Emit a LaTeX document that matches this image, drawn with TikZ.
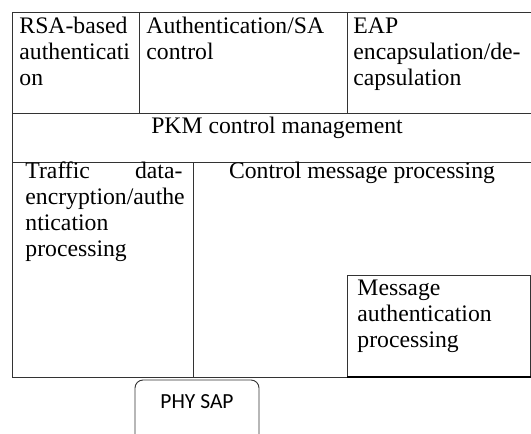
\documentclass[tikz,border=0pt]{standalone}
\usepackage{fontspec}
\setmainfont{Liberation Serif}
\newfontfamily\sapfont{Carlito}
\newcommand{\serifbody}{\fontsize{23.7}{26}\selectfont}
% lines of a cell, baseline on the first line
\newcommand{\celllines}[1]{\begin{tabular}[t]{@{}l@{}}#1\end{tabular}}

\begin{document}
\begin{tikzpicture}[x=1pt,y=-1pt,line width=0.9pt,
    grid/.style={draw=black!80},
    celltext/.style={anchor=base west,inner sep=0pt,font=\serifbody}]
    \useasboundingbox (0,0) rectangle (531,434);
    \clip (0,0) rectangle (531,434);
    %%table_frame
    \draw[grid] (531,12) -- (12,12) -- (12,377) -- (347,377);
    \draw[grid] (12,113) -- (531,113);
    \draw[grid] (12,162) -- (531,162);
    \draw[grid] (139,12) -- (139,113);
    \draw[grid] (347,12) -- (347,113);
    \draw[grid] (193,162) -- (193,377);
    %%message_box
    \draw[grid] (347,377) -- (347,275) -- (530,275) -- (530,377);
    \draw[line width=1.6pt] (347,377) -- (531,377);
    %%top_row
    \node[celltext] (rsa) at (19,33) {\celllines{RSA-based\\authenticati\\on}};
    \node[celltext] (authsa) at (146,33) {\celllines{Authentication/SA\\control}};
    \node[celltext] (eap) at (353,33) {\celllines{EAP\\encapsulation/de-\\capsulation}};
    %%middle_row
    \node[celltext,anchor=base] (pkm) at (277,133) {PKM control management};
    %%bottom_row
    \node[celltext] (traffic) at (25,178)
        {\begin{tabular}[t]{@{}p{157pt}@{}}Traffic\hfill data-\\encryption/authe\\ntication\\processing\end{tabular}};
    \node[celltext,anchor=base] (ctrl) at (362,178) {Control message processing};
    \node[celltext] (msgauth) at (357,295) {\celllines{Message\\authentication\\processing}};
    %%phy_sap
    \draw[grid,rounded corners=8pt] (135,450) -- (135,380) -- (259,380) -- (259,450);
    \node[anchor=base,inner sep=0pt,font=\sapfont\fontsize{21.5}{24}\selectfont] (sap) at (197,408) {PHY SAP};
\end{tikzpicture}
\end{document}
